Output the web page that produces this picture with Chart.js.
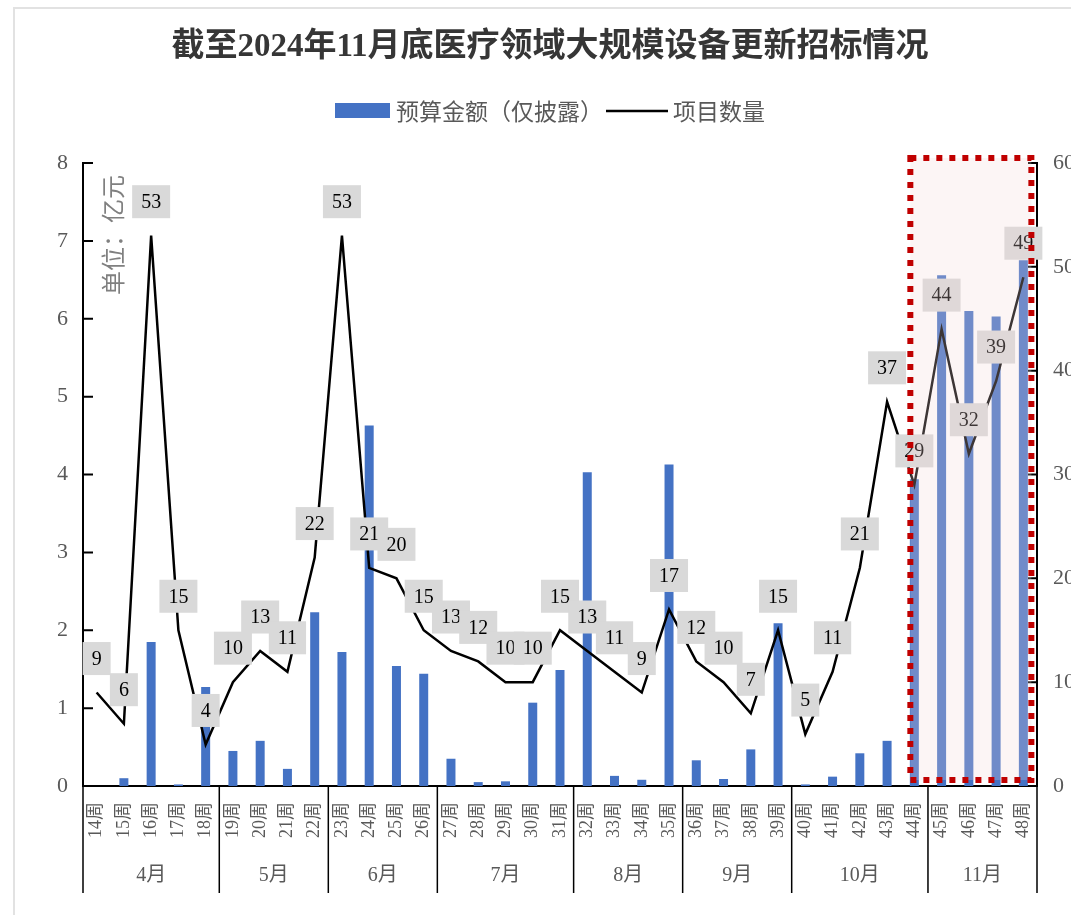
<!DOCTYPE html>
<html>
<head>
<meta charset="utf-8">
<script src="https://cdn.jsdelivr.net/npm/chart.js@4/dist/chart.umd.min.js"></script>
<style>
html,body{margin:0;padding:0;background:#fff;overflow:hidden}
#wrap{width:1071px;height:915px;position:relative}
canvas{display:block}
</style>
</head>
<body>
<div id="wrap"><canvas id="c" width="1071" height="915"></canvas></div>
<script>
// ---- data ----
const chartTitle = '截至2024年11月底医疗领域大规模设备更新招标情况';
const weeks = ['14周','15周','16周','17周','18周','19周','20周','21周','22周','23周','24周','25周','26周','27周','28周','29周','30周','31周','32周','33周','34周','35周','36周','37周','38周','39周','40周','41周','42周','43周','44周','45周','46周','47周','48周'];
const months = ['4月','5月','6月','7月','8月','9月','10月','11月'];
const monthWeekCounts = [5,4,4,5,4,4,5,4];
const budget = [0,0.10,1.85,0.02,1.27,0.45,0.58,0.22,2.23,1.72,4.63,1.54,1.44,0.35,0.05,0.06,1.07,1.49,4.03,0.13,0.08,4.13,0.33,0.09,0.47,2.09,0.02,0.12,0.42,0.58,3.94,6.56,6.10,6.03,6.75];
const counts = [9,6,53,15,4,10,13,11,22,53,21,20,15,13,12,10,10,15,13,11,9,17,12,10,7,15,5,11,21,37,29,44,32,39,49];
const leftTicks = [0,1,2,3,4,5,6,7,8];
const rightTicks = [0,10,20,30,40,50,60];
const budgetLabel = '预算金额（仅披露）';
const countLabel = '项目数量';
const unitLabel = '单位：亿元';
const highlightFrom = '45周', highlightTo = '48周';

const SERIF = "'Liberation Serif','Noto Sans CJK SC'";
const CJK = "'Noto Sans CJK SC','Liberation Serif'";

const decorPlugin = {
  id: 'decor',
  beforeDraw(chart) {
    const ctx = chart.ctx;
    ctx.save();
    ctx.fillStyle = '#fff';
    ctx.fillRect(0, 0, chart.width, chart.height);
    // page frame
    ctx.strokeStyle = '#e2e2e2';
    ctx.lineWidth = 2;
    ctx.beginPath();
    ctx.moveTo(14, chart.height);
    ctx.lineTo(14, 8);
    ctx.lineTo(chart.width, 8);
    ctx.stroke();
    // title
    ctx.fillStyle = '#363636';
    ctx.font = "bold 33px " + SERIF;
    ctx.textAlign = 'center';
    ctx.textBaseline = 'middle';
    ctx.fillText(chartTitle, 550, 47);
    // legend
    ctx.fillStyle = '#4472c4';
    ctx.fillRect(335, 103, 55, 15);
    ctx.fillStyle = '#595959';
    ctx.font = "23px " + CJK;
    ctx.textAlign = 'left';
    ctx.fillText(budgetLabel, 396, 111);
    const w1 = ctx.measureText(budgetLabel).width;
    const lx = 396 + w1 + 3;
    ctx.strokeStyle = '#000';
    ctx.lineWidth = 2.5;
    ctx.beginPath();
    ctx.moveTo(lx, 111);
    ctx.lineTo(lx + 62, 111);
    ctx.stroke();
    ctx.fillText(countLabel, lx + 67, 111);
    // unit label
    ctx.translate(113, 235);
    ctx.rotate(-Math.PI / 2);
    ctx.fillStyle = '#808080';
    ctx.font = "24px " + CJK;
    ctx.textAlign = 'center';
    ctx.fillText(unitLabel, 0, 0);
    ctx.restore();
  },
  afterDatasetsDraw(chart) {
    const ctx = chart.ctx;
    const meta = chart.getDatasetMeta(0);
    ctx.save();
    ctx.font = "20px " + SERIF;
    ctx.textAlign = 'center';
    ctx.textBaseline = 'middle';
    meta.data.forEach((pt, i) => {
      const txt = String(counts[i]);
      const tw = ctx.measureText(txt).width;
      const bw = tw + 18, bh = 33;
      const cx = pt.x, cy = pt.y - 34;
      ctx.fillStyle = '#d9d9d9';
      ctx.fillRect(cx - bw / 2, cy - bh / 2, bw, bh);
      ctx.fillStyle = '#000';
      ctx.fillText(txt, cx, cy + 1);
    });
    ctx.restore();
  },
  afterDraw(chart) {
    const ctx = chart.ctx;
    const xs = chart.scales.x, ys = chart.scales.y, y1 = chart.scales.y1;
    const ca = chart.chartArea;
    ctx.save();
    // inward tick marks
    ctx.strokeStyle = '#000';
    ctx.lineWidth = 2;
    ctx.beginPath();
    ys.ticks.forEach(t => { const p = ys.getPixelForValue(t.value); ctx.moveTo(ca.left, p); ctx.lineTo(ca.left + 10, p); });
    y1.ticks.forEach(t => { const p = y1.getPixelForValue(t.value); ctx.moveTo(ca.right, p); ctx.lineTo(ca.right - 9, p); });
    ctx.stroke();
    // month separators & labels
    const cw = (xs.right - xs.left) / weeks.length;
    ctx.lineWidth = 1.5;
    ctx.beginPath();
    let idx = 0;
    const bounds = [xs.left];
    monthWeekCounts.forEach(n => { idx += n; bounds.push(xs.left + idx * cw); });
    bounds.forEach(b => { ctx.moveTo(b, ca.bottom); ctx.lineTo(b, 893); });
    ctx.stroke();
    ctx.fillStyle = '#595959';
    ctx.font = "20px " + SERIF;
    ctx.textAlign = 'center';
    ctx.textBaseline = 'middle';
    months.forEach((m, i) => { ctx.fillText(m, (bounds[i] + bounds[i + 1]) / 2, 876); });
    // highlight box
    const i0 = weeks.indexOf(highlightFrom) - 1, i1 = weeks.indexOf(highlightTo);
    const bx0 = xs.getPixelForValue(i0) - 4, bx1 = xs.getPixelForValue(i1) + 8;
    const by0 = ca.top - 5, by1 = ca.bottom - 6;
    ctx.fillStyle = 'rgba(245,215,215,0.25)';
    ctx.fillRect(bx0, by0, bx1 - bx0, by1 - by0);
    ctx.strokeStyle = '#c00000';
    ctx.lineWidth = 6;
    ctx.setLineDash([6, 7]);
    ctx.strokeRect(bx0, by0, bx1 - bx0, by1 - by0);
    ctx.restore();
  }
};

new Chart(document.getElementById('c').getContext('2d'), {
  type: 'bar',
  data: {
    labels: weeks,
    datasets: [
      { type: 'line', label: countLabel, data: counts, yAxisID: 'y1', borderColor: '#000', backgroundColor: '#000', borderWidth: 2.5, pointRadius: 0, tension: 0, order: 0 },
      { type: 'bar', label: budgetLabel, data: budget, yAxisID: 'y', backgroundColor: '#4472c4', barPercentage: 0.33, categoryPercentage: 1, order: 1 }
    ]
  },
  options: {
    responsive: false,
    animation: false,
    devicePixelRatio: 1,
    layout: { padding: { top: 163, left: 0, right: 0, bottom: 0 }, autoPadding: false },
    plugins: { legend: { display: false }, title: { display: false }, tooltip: { enabled: false } },
    scales: {
      x: {
        grid: { display: false, drawTicks: false },
        border: { display: true, color: '#000', width: 2 },
        ticks: { minRotation: 90, maxRotation: 90, autoSkip: false, padding: 16, color: '#595959', font: { family: SERIF, size: 18 } },
        afterFit(s) { s.height = 129; }
      },
      y: {
        position: 'left', min: 0, max: 8,
        afterBuildTicks(s) { s.ticks = leftTicks.map(v => ({ value: v })); },
        ticks: { padding: 15, color: '#595959', font: { family: SERIF, size: 22 } },
        grid: { display: false, drawTicks: false },
        border: { display: true, color: '#000', width: 2 },
        afterFit(s) { s.width = 83; }
      },
      y1: {
        position: 'right', min: 0, max: 60,
        afterBuildTicks(s) { s.ticks = rightTicks.map(v => ({ value: v })); },
        ticks: { padding: 16, color: '#595959', font: { family: SERIF, size: 22 } },
        grid: { display: false, drawTicks: false },
        border: { display: true, color: '#000', width: 2 },
        afterFit(s) { s.width = 34; }
      }
    }
  },
  plugins: [decorPlugin]
});
</script>
</body>
</html>
